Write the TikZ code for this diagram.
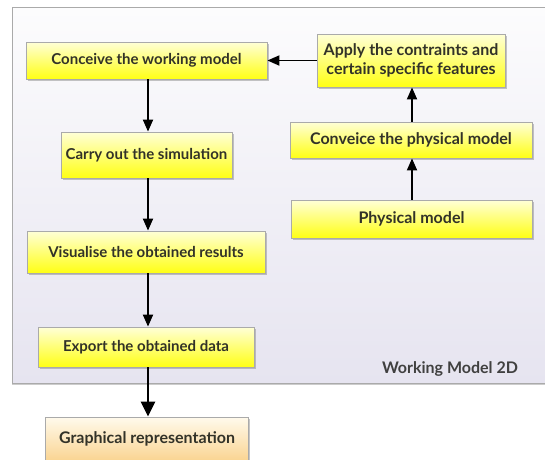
\documentclass[tikz,border=0pt]{standalone}
\usepackage{fontspec}
\setmainfont{Lato}
\usetikzlibrary{shadows,arrows.meta}
\definecolor{txt}{RGB}{50,50,40}
\definecolor{boxline}{RGB}{170,170,170}
\definecolor{paneltop}{RGB}{252,252,253}
\definecolor{panelbot}{RGB}{230,228,240}
\definecolor{yeltop}{RGB}{255,255,215}
\definecolor{yelbot}{RGB}{255,255,20}
\definecolor{ortop}{RGB}{255,250,236}
\definecolor{orbot}{RGB}{250,212,145}
\tikzset{
  ybox/.style={draw=boxline, line width=0.8pt, top color=yeltop, bottom color=yelbot,
    drop shadow={shadow xshift=1.5pt, shadow yshift=-1.5pt, opacity=0.45},
    font=\bfseries\fontsize{15}{17}\selectfont, text=txt, align=center,
    inner sep=0pt},
  bigtext/.style={font=\bfseries\fontsize{16}{18.5}\selectfont},
  obox/.style={ybox, bigtext, top color=ortop, bottom color=orbot},
  arr/.style={line width=1.8pt, -{Triangle[width=10pt,length=12pt]}},
  bigarr/.style={line width=2.8pt, -{Triangle[width=14pt,length=15pt]}}
}
\begin{document}
\begin{tikzpicture}[x=1pt,y=-1pt]
\useasboundingbox (0,0) rectangle (545,459);
\node[draw=boxline, line width=0.8pt, top color=paneltop, bottom color=panelbot,
  drop shadow={shadow xshift=0pt, shadow yshift=-2pt, opacity=0.4},
  minimum width=560pt, minimum height=376pt, anchor=north west, inner sep=0pt] (panel) at (12,7) {};
\node[font=\bfseries\fontsize{16}{18}\selectfont, text={rgb,255:red,64;green,64;blue,64}] (wm) at (450,369) {Working Model 2D};

\node[ybox, minimum width=241pt, minimum height=37pt] (conceive) at (146.5,60.5) {Conceive the working model};
\node[ybox, bigtext, minimum width=188pt, minimum height=53pt] (apply) at (411,60.5) {Apply the contraints and\\certain specific features};
\node[ybox, bigtext, minimum width=242pt, minimum height=36pt] (conveice) at (411,140) {Conveice the physical model};
\node[ybox, bigtext, minimum width=241pt, minimum height=38pt] (phys) at (411.5,219) {Physical model};
\node[ybox, minimum width=171pt, minimum height=46pt] (carry) at (146.5,155) {Carry out the simulation};
\node[ybox, minimum width=238pt, minimum height=42pt] (visu) at (146,252) {Visualise the obtained results};
\node[ybox, minimum width=216pt, minimum height=40pt] (export) at (146,347) {Export the obtained data};
\node[obox, minimum width=203pt, minimum height=44pt] (graph) at (147,439) {Graphical representation};

\draw[arr] (conceive.south -| 148,0) -- (carry.north -| 148,0);
\draw[arr] (carry.south -| 148,0) -- (visu.north -| 148,0);
\draw[arr] (visu.south -| 148,0) -- (export.north -| 148,0);
\draw[bigarr] (export.south -| 148,0) -- (graph.north -| 148,0);
\draw[arr] (phys.north -| 412,0) -- (conveice.south -| 412,0);
\draw[arr] (conveice.north -| 412,0) -- (apply.south -| 412,0);
\draw[arr] (apply.west) -- (conceive.east);
\end{tikzpicture}
\end{document}
